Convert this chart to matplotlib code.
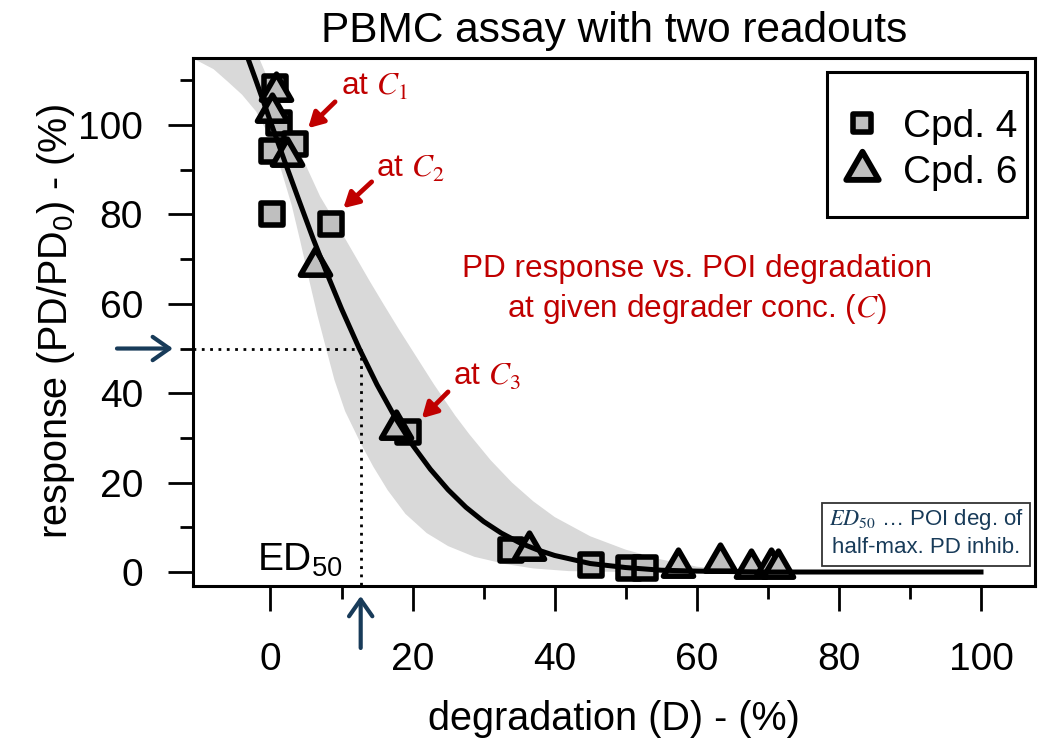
import numpy as np
import matplotlib
matplotlib.use('Agg')
import matplotlib.pyplot as plt
from matplotlib.markers import MarkerStyle
from matplotlib.lines import Line2D
from matplotlib.patches import Rectangle
from matplotlib.path import Path

plt.rcParams['font.family'] = ['Liberation Sans', 'DejaVu Sans']
plt.rcParams['mathtext.fontset'] = 'stix'
plt.rcParams['mathtext.default'] = 'regular'

# ---------------- data ----------------
cpd4_D = [0.7, 1.2, 0.2, 3.5, 0.2, 8.5, 19.3, 33.9, 45.1, 50.5, 52.7]
cpd4_R = [108.5, 100.5, 94.2, 95.8, 80.2, 77.8, 31.4, 4.9, 1.6, 0.8, 0.8]
cpd6_D = [0.8, 0.2, 2.3, 6.3, 17.6, 36.4, 57.3, 63.2, 67.7, 70.5, 71.5]
cpd6_R = [107.6, 103.0, 93.0, 68.5, 32.1, 4.9, 1.2, 2.3, 0.8, 1.2, 0.9]

# fitted curve
fit_D = [-3.3, -2, 0, 2, 4, 6, 8, 10, 12.5, 15, 17.5, 20, 22.5, 25, 27.5, 30,
         32.5, 35, 37.5, 40, 45, 50, 55, 60, 70, 80, 100]
fit_R = [115.5, 109.8, 100.8, 91.9, 83.2, 74.6, 66.6, 58.9, 50.0, 41.9, 34.7,
         28.4, 23.0, 18.4, 14.5, 11.3, 8.7, 6.6, 5.0, 3.7, 1.9, 1.0, 0.4, 0.2,
         0.0, 0.0, 0.0]

# uncertainty band edges
band_hi_D = [-11, -1.6, 0, 2, 4.4, 7, 10, 12, 14, 16, 18, 20, 23, 26, 28, 31,
             34, 37, 40, 45, 50, 55, 60, 65, 70]
band_hi_R = [120, 115, 109, 101.5, 93, 84, 76, 70.5, 65, 59.7, 54.5, 49.5, 42,
             35, 30.8, 25, 20, 15.8, 12.3, 8, 5, 2.8, 1.2, 0.4, 0]
band_lo_D = [-11, -8, -6, -4, -2, 0, 1.5, 3, 4.2, 5.2, 6.6, 8, 9, 10.5, 12.7,
             14.5, 16.5, 19, 22, 25, 28.7, 33, 37, 42, 50, 70]
band_lo_R = [115, 112.5, 109.7, 106.8, 103, 97, 90, 82, 74, 67, 57.5, 49, 43,
             36, 28.8, 23.5, 18.3, 13, 8.7, 5.8, 3.4, 1.8, 0.8, 0.2, 0, 0]

ed50 = 12.7
half_resp = 50

legend_labels = ['Cpd. 4', 'Cpd. 6']
x_major = [0, 20, 40, 60, 80, 100]
x_minor = [10, 30, 50, 70, 90]
y_major = [0, 20, 40, 60, 80, 100]
y_minor = [10, 30, 50, 70, 90, 110]

# ---------------- styling ----------------
RED = '#C00000'
NAVY = '#183B59'
GRAY_FILL = '#BFBFBF'
BAND = '#D9D9D9'

fig = plt.figure(figsize=(10.38, 7.47), dpi=100)
ax = fig.add_axes([193/1038, 161/747, 842/1038, 528/747])
ax.set_xlim(-10.9, 107.6)
ax.set_ylim(-3.13, 115.0)

# band
poly_D = list(band_hi_D) + list(band_lo_D[::-1])
poly_R = list(band_hi_R) + list(band_lo_R[::-1])
ax.fill(poly_D, poly_R, color=BAND, lw=0, zorder=1)

# ED50 guides
ax.plot([ax.get_xlim()[0], ed50], [half_resp, half_resp], color='black',
        lw=2, ls=(0, (1, 2)), zorder=2)
ax.plot([ed50, ed50], [half_resp, ax.get_ylim()[0]], color='black',
        lw=2, ls=(0, (1, 2)), zorder=2)

sq_marker = MarkerStyle('s', joinstyle='round')
tri_path = Path([(0, 1), (-0.866, -0.5), (0.866, -0.5), (0, 1)],
                [Path.MOVETO, Path.LINETO, Path.LINETO, Path.CLOSEPOLY])
tri_marker = MarkerStyle(tri_path, joinstyle='round')

ax.plot(cpd4_D, cpd4_R, ls='none', marker=sq_marker, ms=15.2, mfc=GRAY_FILL,
        mec='black', mew=4, zorder=3)
ax.plot(cpd6_D, cpd6_R, ls='none', marker=tri_marker, ms=25, mfc=GRAY_FILL,
        mec='black', mew=4, zorder=3.5)

ax.plot(fit_D, fit_R, color='black', lw=3.6, zorder=4)

# axes styling
for sp in ax.spines.values():
    sp.set_linewidth(2.2)
ax.set_xticks(x_major)
ax.set_xticks(x_minor, minor=True)
ax.set_yticks(y_major)
ax.set_yticks(y_minor, minor=True)
ax.tick_params(which='major', length=18, width=2, labelsize=28)
ax.tick_params(axis='x', which='major', pad=22)
ax.tick_params(axis='y', which='major', pad=18)
ax.tick_params(which='minor', length=9.4, width=2)

ax.set_title('PBMC assay with two readouts', fontsize=30.5, pad=11.5)
ax.set_xlabel('degradation (D) - (%)', fontsize=28.5, labelpad=16)
ax.set_ylabel('response (PD/PD$_0$) - (%)', fontsize=28.5, labelpad=1)

# legend
handles = [
    Line2D([], [], ls='none', marker=sq_marker, ms=13, mfc=GRAY_FILL, mec='black', mew=4),
    Line2D([], [], ls='none', marker=tri_marker, ms=27, mfc=GRAY_FILL, mec='black', mew=4.2),
]
ax.add_patch(Rectangle((0.753, 0.6989), 0.2375, 0.2746, transform=ax.transAxes,
                       facecolor='white', edgecolor='black', lw=2.2, zorder=4.9))
leg = ax.legend(handles, legend_labels, loc='upper left',
                bbox_to_anchor=(0.7667, 0.9034), frameon=False, fontsize=28,
                borderpad=0, borderaxespad=0, handlelength=1.2,
                handletextpad=0.45, labelspacing=0.26)
leg.set_zorder(6)

# red annotations
ax.text(9.9, 106.7, r'at $\mathit{C}_{\mathrm{1}}$', color=RED, fontsize=22.7,
        ha='left', va='baseline', zorder=6)
ax.text(14.9, 88.4, r'at $\mathit{C}_{\mathrm{2}}$', color=RED, fontsize=22.7,
        ha='left', va='baseline', zorder=6)
ax.text(25.7, 41.8, r'at $\mathit{C}_{\mathrm{3}}$', color=RED, fontsize=22.7,
        ha='left', va='baseline', zorder=6)
red_arrow = dict(arrowstyle='-|>,head_length=0.45,head_width=0.25', color=RED,
                 lw=3.4, mutation_scale=20, shrinkA=0, shrinkB=0)
ax.annotate('', xy=(5.3, 99.3), xytext=(9.1, 105.2), arrowprops=red_arrow, zorder=6)
ax.annotate('', xy=(10.25, 81.4), xytext=(14.25, 87.3), arrowprops=red_arrow, zorder=6)
ax.annotate('', xy=(21.3, 34.4), xytext=(25.0, 40.3), arrowprops=red_arrow, zorder=6)

ax.text(60.0, 66.0, 'PD response vs. POI degradation', color=RED, fontsize=22.7,
        ha='center', va='baseline')
ax.text(60.0, 57.0, r'at given degrader conc. ($\mathit{C}$)', color=RED,
        fontsize=22.7, ha='center', va='baseline')

# ED50 label
ax.text(-1.9, 0.3, 'ED$_{50}$', fontsize=28, ha='left', va='baseline', zorder=6)

# navy arrows marking ED50
navy_arrow = dict(arrowstyle='->,head_length=0.4,head_width=0.28', color=NAVY,
                  lw=3.0, mutation_scale=30, shrinkA=0, shrinkB=0)
ax.annotate('', xy=(-0.0238, half_resp), xycoords=('axes fraction', 'data'),
            xytext=(-0.0903, half_resp), textcoords=('axes fraction', 'data'),
            arrowprops=navy_arrow, annotation_clip=False)
ax.annotate('', xy=(ed50, -0.0189), xycoords=('data', 'axes fraction'),
            xytext=(ed50, -0.1174), textcoords=('data', 'axes fraction'),
            arrowprops=navy_arrow, annotation_clip=False)

# definition box
ax.add_patch(Rectangle((77.6, 1.3), 29.3, 14.1, facecolor='white',
                       edgecolor='#333333', lw=1.3, zorder=5))
ax.text(92.3, 10.5, r'$\mathit{ED}_{\mathrm{50}}$ … POI deg. of', color=NAVY,
        fontsize=16, ha='center', va='baseline', zorder=6)
ax.text(92.3, 4.25, 'half-max. PD inhib.', color=NAVY, fontsize=16,
        ha='center', va='baseline', zorder=6)

fig.savefig('out.png', dpi=100)
